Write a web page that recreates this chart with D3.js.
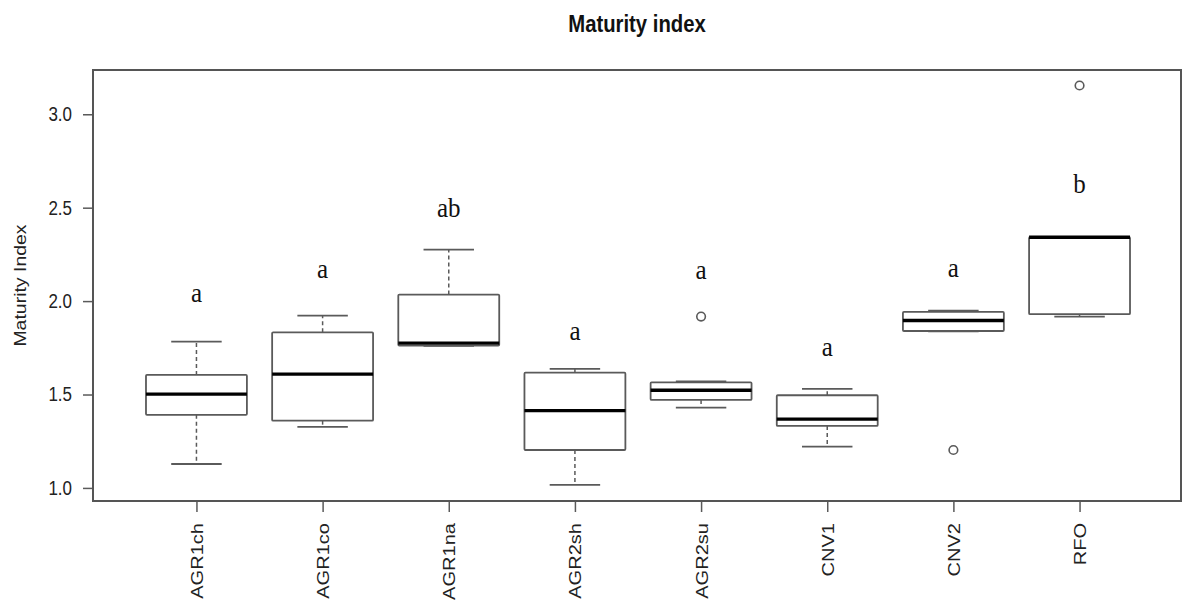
<!DOCTYPE html>
<html>
<head>
<meta charset="utf-8">
<script src="https://cdn.jsdelivr.net/npm/d3@7"></script>
<style>
  body { margin: 0; background: #fff; }
  svg { display: block; }
</style>
</head>
<body>
<script>
'use strict';

// groups and box statistics
const groups = ["AGR1ch", "AGR1co", "AGR1na", "AGR2sh", "AGR2su", "CNV1", "CNV2", "RFO"];
const whiskerLow  = [1.128, 1.327, 1.760, 1.016, 1.430, 1.221, 1.838, 1.917];
const q1          = [1.391, 1.360, 1.762, 1.203, 1.471, 1.332, 1.840, 1.930];
const median      = [1.502, 1.609, 1.775, 1.414, 1.523, 1.368, 1.896, 2.342];
const q3          = [1.605, 1.833, 2.035, 1.617, 1.565, 1.496, 1.942, 2.342];
const whiskerHigh = [1.783, 1.922, 2.276, 1.637, 1.570, 1.530, 1.949, 2.342];
// outliers: [group index, value]
const outliers = [[4, 1.917], [6, 1.203], [7, 3.154]];
// significance letters and their baseline height
const letters = ["a", "a", "ab", "a", "a", "a", "a", "b"];
const letterY = [1.995, 2.122, 2.452, 1.792, 2.117, 1.708, 2.131, 2.577];
const yTicks = [1.0, 1.5, 2.0, 2.5, 3.0];

(function() {

  const W = 1182, H = 601;
  const pLeft = 93, pRight = 1181, pTop = 70, pBottom = 501;
  const stretch = 1.18; // the picture is taller than wide
  const grey = "#5a5a5a";

  const svg = d3.select("body").append("svg")
    .attr("width", W)
    .attr("height", H);

  // R style: 4% padding around 0.5 .. 8.5
  const x = d3.scaleLinear().domain([0.18, 8.82]).range([pLeft, 1183]);
  const y = d3.scaleLinear().domain([0.93, 3.237]).range([pBottom, pTop]);
  const step = x(2) - x(1);

  // title
  svg.append("text")
    .attr("transform", `translate(${(pLeft + pRight) / 2}, 31.5) scale(1, ${stretch})`)
    .attr("text-anchor", "middle")
    .style("font-family", "Liberation Sans, Arial, sans-serif")
    .style("font-weight", "bold")
    .style("font-size", "20.3px")
    .attr("fill", "#111")
    .text("Maturity index");

  // y axis label
  svg.append("text")
    .attr("transform", `translate(20.5, ${(pTop + pBottom) / 2}) scale(1, ${stretch}) rotate(-90)`)
    .attr("text-anchor", "middle")
    .attr("dy", "0.35em")
    .style("font-family", "Liberation Sans, Arial, sans-serif")
    .style("font-size", "16.5px")
    .attr("fill", "#222")
    .text("Maturity Index");

  // y axis
  let yAxis = svg.append("g")
    .attr("transform", `translate(${pLeft}, 0)`)
    .call(d3.axisLeft(y).tickValues(yTicks).tickFormat(d3.format(".1f"))
      .tickSize(10).tickPadding(11));
  yAxis.select(".domain").remove();
  yAxis.selectAll("line").attr("stroke", grey).attr("stroke-width", 1.5);
  yAxis.selectAll("text")
    .attr("transform", `scale(1, ${stretch})`)
    .attr("fill", "#222")
    .style("font-family", "Liberation Sans, Arial, sans-serif")
    .style("font-size", "17px");

  // x axis
  let xAxis = svg.append("g")
    .attr("transform", `translate(0, ${pBottom})`)
    .call(d3.axisBottom(d3.scalePoint().domain(groups).range([x(1), x(8)]))
      .tickSize(11).tickPadding(0));
  xAxis.select(".domain").remove();
  xAxis.selectAll("line").attr("stroke", grey).attr("stroke-width", 1.5);
  xAxis.selectAll("text")
    .attr("transform", `scale(1, ${stretch}) rotate(-90)`)
    .attr("text-anchor", "end")
    .attr("x", -22 / stretch)
    .attr("y", 0)
    .attr("dy", "0.35em")
    .attr("fill", "#222")
    .style("font-family", "Liberation Sans, Arial, sans-serif")
    .style("font-size", "17px");

  // plot frame
  svg.append("rect")
    .attr("x", pLeft).attr("y", pTop)
    .attr("width", pRight - pLeft).attr("height", pBottom - pTop)
    .attr("fill", "none")
    .attr("stroke", "#555")
    .attr("stroke-width", 2);

  // boxes
  const boxes = svg.selectAll(".box")
    .data(groups)
    .enter()
    .append("g")
    .attr("class", "box")
    .attr("transform", (d, i) => `translate(${x(i + 1)}, 0)`);

  const half = step * 0.4, cap = step * 0.2;

  // whiskers (dashed)
  boxes.append("line")
    .attr("x1", 0).attr("x2", 0)
    .attr("y1", (d, i) => y(q3[i])).attr("y2", (d, i) => y(whiskerHigh[i]))
    .attr("stroke", grey).attr("stroke-width", 1.5).attr("stroke-dasharray", "4,3");
  boxes.append("line")
    .attr("x1", 0).attr("x2", 0)
    .attr("y1", (d, i) => y(q1[i])).attr("y2", (d, i) => y(whiskerLow[i]))
    .attr("stroke", grey).attr("stroke-width", 1.5).attr("stroke-dasharray", "4,3");

  // staples
  boxes.append("line")
    .attr("x1", -cap).attr("x2", cap)
    .attr("y1", (d, i) => y(whiskerHigh[i])).attr("y2", (d, i) => y(whiskerHigh[i]))
    .attr("stroke", grey).attr("stroke-width", 1.8);
  boxes.append("line")
    .attr("x1", -cap).attr("x2", cap)
    .attr("y1", (d, i) => y(whiskerLow[i])).attr("y2", (d, i) => y(whiskerLow[i]))
    .attr("stroke", grey).attr("stroke-width", 1.8);

  // box body
  boxes.append("rect")
    .attr("x", -half)
    .attr("width", half * 2)
    .attr("y", (d, i) => y(q3[i]))
    .attr("height", (d, i) => y(q1[i]) - y(q3[i]))
    .attr("fill", "#fff")
    .attr("stroke", grey)
    .attr("stroke-width", 1.8)
    .attr("rx", 1);

  // median
  boxes.append("line")
    .attr("x1", -half).attr("x2", half)
    .attr("y1", (d, i) => y(median[i])).attr("y2", (d, i) => y(median[i]))
    .attr("stroke", "#000").attr("stroke-width", 3.4);

  // outliers
  svg.selectAll(".outlier")
    .data(outliers)
    .enter()
    .append("circle")
    .attr("cx", d => x(d[0] + 1))
    .attr("cy", d => y(d[1]))
    .attr("r", 4.3)
    .attr("fill", "none")
    .attr("stroke", grey)
    .attr("stroke-width", 1.6);

  // significance letters
  boxes.append("text")
    .attr("transform", (d, i) => `translate(0, ${y(letterY[i])}) scale(1, 1.1)`)
    .attr("text-anchor", "middle")
    .style("font-family", "Liberation Serif, 'DejaVu Serif', serif")
    .style("font-size", "25px")
    .attr("fill", "#111")
    .text((d, i) => letters[i]);

})();
</script>
</body>
</html>
